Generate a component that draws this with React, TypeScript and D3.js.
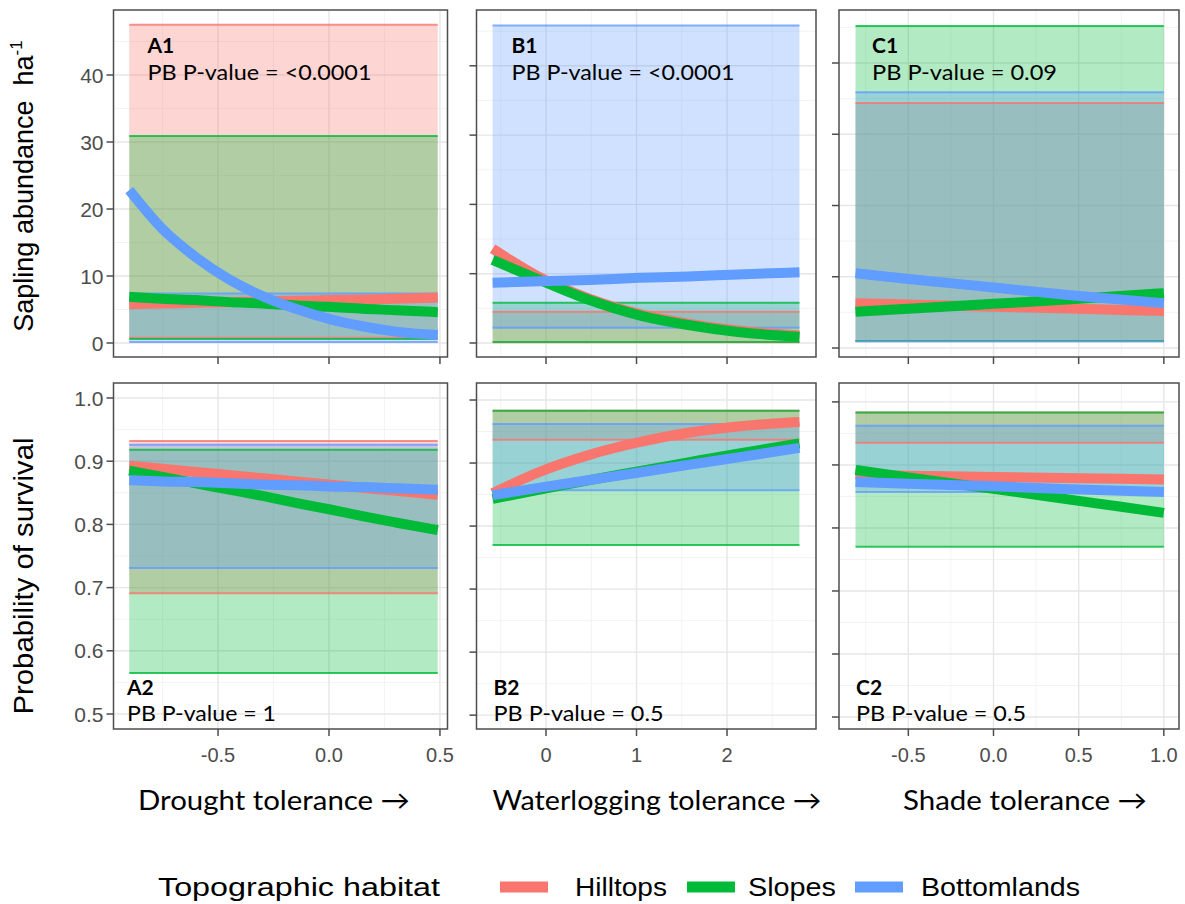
import React from 'react';
import * as d3 from 'd3';

// ---------------- DATA ----------------
const habitats = ['Hilltops', 'Slopes', 'Bottomlands'];
const habitatColors = ['#F8766D', '#00BA38', '#619CFF'];

// x positions where the fitted curves were read
const droughtX = [-0.9, -0.75, -0.6, -0.45, -0.3, -0.15, 0, 0.15, 0.3, 0.49];
const waterX = [-0.59, -0.07, 0.48, 1.03, 1.57, 2.12, 2.8];
const shadeX = [-0.81, -0.5, 0, 0.5, 1.0];

// Row 1: sapling abundance (ha^-1)
const a1Hilltops = [5.8, 5.9, 6.0, 6.1, 6.2, 6.3, 6.4, 6.5, 6.6, 6.8];
const a1Slopes = [6.9, 6.6, 6.4, 6.1, 5.9, 5.6, 5.4, 5.1, 4.9, 4.6];
const a1Bottomlands = [22.8, 17.0, 12.8, 9.5, 7.0, 5.1, 3.6, 2.5, 1.7, 1.2];
const b1Hilltops = [13.6, 9.5, 6.4, 4.2, 2.8, 1.8, 1.1];
const b1Slopes = [12.0, 9.1, 6.2, 4.0, 2.6, 1.6, 0.9];
const b1Bottomlands = [8.7, 8.9, 9.1, 9.4, 9.6, 9.9, 10.2];
const c1Hilltops = [6.3, 6.1, 5.8, 5.5, 5.2];
const c1Slopes = [5.1, 5.5, 6.2, 6.9, 7.7];
const c1Bottomlands = [10.5, 9.7, 8.5, 7.3, 6.3];

// Row 2: probability of survival
const a2Hilltops = [0.893, 0.888, 0.883, 0.878, 0.873, 0.868, 0.863, 0.858, 0.853, 0.847];
const a2Slopes = [0.885, 0.875, 0.865, 0.855, 0.845, 0.834, 0.824, 0.813, 0.803, 0.791];
const a2Bottomlands = [0.870, 0.868, 0.867, 0.865, 0.863, 0.862, 0.860, 0.859, 0.857, 0.855];
const b2Hilltops = [0.852, 0.886, 0.913, 0.933, 0.948, 0.958, 0.965];
const b2Slopes = [0.843, 0.858, 0.873, 0.887, 0.901, 0.915, 0.931];
const b2Bottomlands = [0.849, 0.861, 0.873, 0.885, 0.897, 0.909, 0.924];
const c2Hilltops = [0.885, 0.883, 0.881, 0.879, 0.877];
const c2Slopes = [0.892, 0.880, 0.862, 0.843, 0.824];
const c2Bottomlands = [0.873, 0.870, 0.866, 0.861, 0.857];

// horizontal bands [low, high] per habitat (Hilltops, Slopes, Bottomlands)
const a1Bands = [[0.8, 47.5], [0.6, 30.9], [0.15, 7.4]];
const b1Bands = [[0.1, 4.5], [0.15, 5.8], [2.2, 45.8]];
const c1Bands = [[1.0, 34.4], [1.0, 45.2], [0.9, 35.9]];
const a2Bands = [[0.691, 0.932], [0.565, 0.918], [0.731, 0.926]];
const b2Bands = [[0.937, 0.983], [0.770, 0.983], [0.857, 0.962]];
const c2Bands = [[0.935, 0.983], [0.770, 0.983], [0.857, 0.962]];

const panelLabels = ['A1', 'B1', 'C1', 'A2', 'B2', 'C2'];
const pValues = ['<0.0001', '<0.0001', '0.09', '1', '0.5', '0.5'];
const xTitles = ['Drought tolerance \u2192', 'Waterlogging tolerance \u2192', 'Shade tolerance \u2192'];
const xTickValues = [[-0.5, 0, 0.5], [0, 1, 2], [-0.5, 0, 0.5, 1.0]];
const xTickLabels = [['-0.5', '0.0', '0.5'], ['0', '1', '2'], ['-0.5', '0.0', '0.5', '1.0']];
const yTickValuesTop = [0, 10, 20, 30, 40];
const yTickLabelsTop = ['0', '10', '20', '30', '40'];
const yTickValuesBottom = [0.5, 0.6, 0.7, 0.8, 0.9, 1.0];
const yTickLabelsBottom = ['0.5', '0.6', '0.7', '0.8', '0.9', '1.0'];
const yTitleTop = 'Sapling abundance\u00A0\u00A0ha';
const yTitleTopSup = '-1';
const yTitleBottom = 'Probability of survival';
const legendTitle = 'Topographic habitat';

// ---------------- LAYOUT ----------------
const W = 1185;
const H = 904;
const colBox = [[113.5, 447.5], [476.5, 816], [839, 1179]];
const rowBox = [[10, 357], [383, 729]];
const xDomains = [[-0.971, 0.534], [-0.768, 2.983], [-0.907, 1.089]];
const yDomains = [
  [[-2.09, 49.7], [-2.02, 48.05], [-1.26, 47.44]],
  [[0.4763, 1.0237], [0.478, 1.027], [0.481, 1.03]],
];
const labelDx = [34, 35, 33, 13.5, 17, 17];
const pWidths = [224, 223, 185, 149, 170, 170];
const xTitleCenters = [274, 657, 1025];
const xTitleWidths = [272, 329, 244];
const legendKeys = [524, 711, 879];
const legendKeyHalf = 24;
const legendLabelX = [575, 748, 921];
const legendLabelW = [92, 88, 159];

const TICK = 7;
const SANS = '"Liberation Sans", Arial, sans-serif';
const CAL = 'Lato, "Open Sans", sans-serif';

function minors(ticks: number[], dom: number[]) {
  const step = ticks[1] - ticks[0];
  const out: number[] = [];
  const lo = Math.min(dom[0], dom[1]);
  const hi = Math.max(dom[0], dom[1]);
  for (let k = -6; k <= ticks.length + 6; k++) {
    const v = ticks[0] + (k + 0.5) * step;
    if (v > lo && v < hi) out.push(v);
  }
  return out;
}

type PanelProps = {
  idx: number;
  row: number;
  col: number;
  xs: number[];
  series: number[][];
  bands: number[][];
};

function Panel({ idx, row, col, xs, series, bands }: PanelProps) {
  const [x0, x1] = colBox[col];
  const [y0, y1] = rowBox[row];
  const x = d3.scaleLinear().domain(xDomains[col]).range([x0, x1]);
  const y = d3.scaleLinear().domain(yDomains[row][col]).range([y1, y0]);
  const xMaj = xTickValues[col];
  const yMaj = row === 0 ? yTickValuesTop : yTickValuesBottom;
  const xMin = minors(xMaj, xDomains[col]);
  const yMin = minors(yMaj, yDomains[row][col]);
  const line = d3
    .line<number>()
    .x((_, i) => x(xs[i]))
    .y((d) => y(d))
    .curve(d3.curveMonotoneX);
  const xEnds = [xs[0], xs[xs.length - 1]];
  const area = d3.area<number>().x((d) => x(d));
  const clipId = `clip${idx}`;
  const labelX = x0 + labelDx[idx];
  const labY = row === 0 ? [53, 80] : [695, 721];

  return (
    <g>
      <defs>
        <clipPath id={clipId}>
          <rect x={x0} y={y0} width={x1 - x0} height={y1 - y0} />
        </clipPath>
      </defs>
      <rect x={x0} y={y0} width={x1 - x0} height={y1 - y0} fill="#fff" />
      <g clipPath={`url(#${clipId})`}>
        {xMin.map((v, i) => (
          <line key={'xm' + i} x1={x(v)} x2={x(v)} y1={y0} y2={y1} stroke="#F2F2F2" strokeWidth={0.9} />
        ))}
        {yMin.map((v, i) => (
          <line key={'ym' + i} x1={x0} x2={x1} y1={y(v)} y2={y(v)} stroke="#F2F2F2" strokeWidth={0.9} />
        ))}
        {xMaj.map((v, i) => (
          <line key={'xM' + i} x1={x(v)} x2={x(v)} y1={y0} y2={y1} stroke="#E6E6E6" strokeWidth={1.4} />
        ))}
        {yMaj.map((v, i) => (
          <line key={'yM' + i} x1={x0} x2={x1} y1={y(v)} y2={y(v)} stroke="#E6E6E6" strokeWidth={1.4} />
        ))}
        {bands.map((b, i) => (
          <path
            key={'band' + i}
            d={area.y0(y(b[0])).y1(y(b[1]))(xEnds) || ''}
            fill={habitatColors[i]}
            fillOpacity={0.3}
          />
        ))}
        {bands.map((b, i) =>
          b.map((v, j) => (
            <line
              key={'edge' + i + '-' + j}
              x1={x(xEnds[0])}
              x2={x(xEnds[1])}
              y1={y(v)}
              y2={y(v)}
              stroke={habitatColors[i]}
              strokeOpacity={0.8}
              strokeWidth={2}
            />
          ))
        )}
        {series.map((s, i) => (
          <path
            key={'line' + i}
            d={line(s) || ''}
            fill="none"
            stroke={habitatColors[i]}
            strokeWidth={10}
            strokeLinecap="butt"
          />
        ))}
      </g>
      <text x={labelX} y={labY[0]} fontFamily={CAL} fontWeight="bold" fontSize={21} fill="#000">
        {panelLabels[idx]}
      </text>
      <text
        x={labelX}
        y={labY[1]}
        fontFamily={CAL}
        fontSize={21}
        fill="#000"
        textLength={pWidths[idx]}
        lengthAdjust="spacingAndGlyphs"
      >
        {'PB P-value = ' + pValues[idx]}
      </text>
      <rect x={x0} y={y0} width={x1 - x0} height={y1 - y0} fill="none" stroke="#4D4D4D" strokeWidth={1.5} />
      {yMaj.map((v, i) => (
        <line key={'yt' + i} x1={x0 - TICK} x2={x0} y1={y(v)} y2={y(v)} stroke="#4D4D4D" strokeWidth={1.5} />
      ))}
      {xMaj.map((v, i) => (
        <line key={'xt' + i} x1={x(v)} x2={x(v)} y1={y1} y2={y1 + TICK} stroke="#4D4D4D" strokeWidth={1.5} />
      ))}
      {col === 0 &&
        yMaj.map((v, i) => (
          <text
            key={'yl' + i}
            x={x0 - TICK - 3}
            y={y(v)}
            dy="0.36em"
            textAnchor="end"
            fontFamily={SANS}
            fontSize={21}
            fill="#4D4D4D"
          >
            {(row === 0 ? yTickLabelsTop : yTickLabelsBottom)[i]}
          </text>
        ))}
      {row === 1 &&
        xMaj.map((v, i) => (
          <text
            key={'xl' + i}
            x={x(v)}
            y={762}
            textAnchor="middle"
            fontFamily={SANS}
            fontSize={20}
            fill="#4D4D4D"
          >
            {xTickLabels[col][i]}
          </text>
        ))}
    </g>
  );
}

export default function App() {
  const panels: PanelProps[] = [
    { idx: 0, row: 0, col: 0, xs: droughtX, series: [a1Hilltops, a1Slopes, a1Bottomlands], bands: a1Bands },
    { idx: 1, row: 0, col: 1, xs: waterX, series: [b1Hilltops, b1Slopes, b1Bottomlands], bands: b1Bands },
    { idx: 2, row: 0, col: 2, xs: shadeX, series: [c1Hilltops, c1Slopes, c1Bottomlands], bands: c1Bands },
    { idx: 3, row: 1, col: 0, xs: droughtX, series: [a2Hilltops, a2Slopes, a2Bottomlands], bands: a2Bands },
    { idx: 4, row: 1, col: 1, xs: waterX, series: [b2Hilltops, b2Slopes, b2Bottomlands], bands: b2Bands },
    { idx: 5, row: 1, col: 2, xs: shadeX, series: [c2Hilltops, c2Slopes, c2Bottomlands], bands: c2Bands },
  ];
  const legendY = 887;
  return (
    <svg
      width={W}
      height={H}
      viewBox={`0 0 ${W} ${H}`}
      style={{ position: 'absolute', left: 0, top: 0, display: 'block' }}
    >
      <rect width={W} height={H} fill="#fff" />
      {panels.map((p) => (
        <Panel key={p.idx} {...p} />
      ))}
      <text
        transform="translate(33,186) rotate(-90)"
        textAnchor="middle"
        fontFamily={SANS}
        fontSize={27}
        fill="#000"
      >
        {yTitleTop}
        <tspan dy={-11} fontSize={17}>
          {yTitleTopSup}
        </tspan>
      </text>
      <text
        transform="translate(33,576) rotate(-90)"
        textAnchor="middle"
        fontFamily={SANS}
        fontSize={27}
        fill="#000"
        textLength={277}
        lengthAdjust="spacingAndGlyphs"
      >
        {yTitleBottom}
      </text>
      {xTitles.map((t, i) => (
        <text
          key={'xt' + i}
          x={xTitleCenters[i] - xTitleWidths[i] / 2}
          y={810}
          fontFamily={CAL}
          fontSize={27}
          fill="#000"
          textLength={xTitleWidths[i]}
          lengthAdjust="spacingAndGlyphs"
        >
          {t}
        </text>
      ))}
      <text
        x={158}
        y={legendY + 9}
        fontFamily={SANS}
        fontSize={25}
        fill="#000"
        textLength={282}
        lengthAdjust="spacingAndGlyphs"
      >
        {legendTitle}
      </text>
      {habitats.map((h, i) => (
        <g key={'lg' + i}>
          <line
            x1={legendKeys[i] - legendKeyHalf}
            x2={legendKeys[i] + legendKeyHalf}
            y1={legendY}
            y2={legendY}
            stroke={habitatColors[i]}
            strokeWidth={11}
          />
          <text
            x={legendLabelX[i]}
            y={legendY + 9}
            fontFamily={SANS}
            fontSize={25}
            fill="#000"
            textLength={legendLabelW[i]}
            lengthAdjust="spacingAndGlyphs"
          >
            {h}
          </text>
        </g>
      ))}
    </svg>
  );
}
